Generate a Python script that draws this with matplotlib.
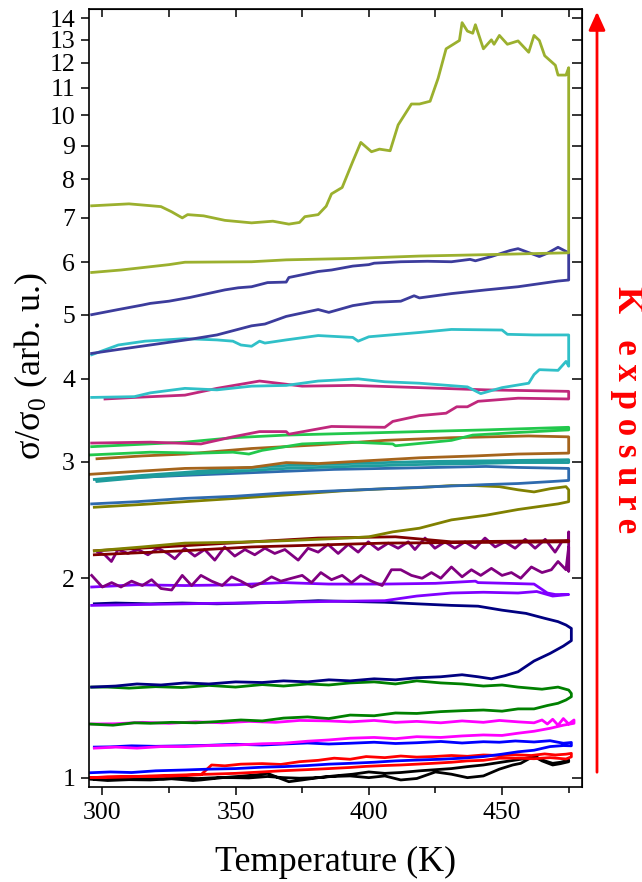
import matplotlib
matplotlib.use("Agg")
import matplotlib.pyplot as plt
from matplotlib.ticker import FixedLocator, FixedFormatter, NullLocator, MultipleLocator
from matplotlib.patches import FancyArrowPatch

plt.rcParams['font.family'] = ['Liberation Serif', 'DejaVu Serif']
plt.rcParams['mathtext.fontset'] = 'custom'
plt.rcParams['mathtext.rm'] = 'Liberation Serif'

# each curve: heating branch (T up) then cooling branch (T down)
black_T = [295, 302, 310, 318, 326, 334, 337, 345, 352, 358, 362, 366, 370, 375, 381, 386, 393, 400, 406,
           412, 418, 425, 431, 437, 443, 449, 454, 457, 462, 466, 469, 472, 475,
           475, 472, 469, 465, 462, 457, 453, 449, 443, 437, 431, 425, 419, 412, 406, 400, 394, 387, 381,
           374, 368, 362, 355, 349, 343, 336, 330, 323, 318, 310, 304, 297]
black_v = [0.995, 0.99, 0.993, 0.992, 0.996, 0.99, 0.992, 1.0, 1.005, 1.01, 1.015, 1.0, 0.986, 0.992, 1.0,
           1.004, 1.006, 1.0, 1.006, 0.992, 0.997, 1.02, 1.012, 1.0, 1.006, 1.03, 1.045, 1.051, 1.078, 1.06,
           1.051, 1.055, 1.063,
           1.057, 1.05, 1.045, 1.06, 1.076, 1.066, 1.06, 1.054, 1.045, 1.039, 1.032, 1.028, 1.024, 1.018,
           1.015, 1.02, 1.012, 1.006, 1.0, 0.998, 1.0, 1.004, 0.999, 1.0, 1.0, 0.997, 0.998, 0.996, 0.998,
           0.995, 0.997, 0.995]

red_T = [295, 302, 310, 318, 325, 332, 337, 341, 346, 352, 360, 367, 374, 381, 387, 393, 399, 406, 412, 418,
         424, 431, 437, 443, 449, 455, 461, 466, 470, 474, 476,
         476, 474, 468, 462, 456, 449, 443, 437, 431, 424, 418, 412, 406, 399, 393, 387, 381, 374, 367, 360,
         350, 340, 332, 325, 318, 310, 302, 295]
red_v = [1.0, 1.002, 1.003, 1.004, 1.005, 1.008, 1.01, 1.045, 1.042, 1.048, 1.05, 1.047, 1.057, 1.062, 1.07,
         1.066, 1.076, 1.072, 1.078, 1.074, 1.076, 1.08, 1.077, 1.082, 1.08, 1.083, 1.08, 1.086, 1.082, 1.085,
         1.088,
         1.075, 1.067, 1.072, 1.068, 1.07, 1.07, 1.062, 1.06, 1.055, 1.051, 1.048, 1.045, 1.043, 1.04, 1.036,
         1.033, 1.03, 1.027, 1.024, 1.02, 1.015, 1.012, 1.01, 1.008, 1.006, 1.003, 1.002, 1.0]

blue_T = [295, 303, 311, 320, 331, 340, 350, 360, 368, 377, 385, 393, 402, 410, 418, 427, 435, 443, 450, 456,
          462, 468, 473, 476,
          476, 473, 468, 462, 455, 449, 443, 435, 427, 418, 410, 402, 393, 385, 377, 368, 360, 350, 340, 331,
          320, 311, 303, 297]
blue_v = [1.017, 1.02, 1.018, 1.024, 1.027, 1.03, 1.032, 1.037, 1.039, 1.043, 1.048, 1.051, 1.055, 1.06, 1.063,
          1.066, 1.07, 1.076, 1.085, 1.094, 1.1, 1.114, 1.118, 1.117,
          1.13, 1.127, 1.137, 1.132, 1.136, 1.131, 1.133, 1.128, 1.134, 1.129, 1.126, 1.131, 1.127, 1.124,
          1.128, 1.124, 1.12, 1.123, 1.119, 1.117, 1.115, 1.117, 1.113, 1.112]

magenta_T = [297, 305, 313, 322, 331, 340, 350, 360, 368, 377, 385, 393, 402, 410, 418, 427, 435, 443, 450,
             456, 462, 468, 473, 477,
             477, 475, 473, 471, 469, 467, 465, 462, 456, 449, 443, 435, 427, 418, 410, 402, 393, 385, 374,
             365, 355, 345, 335, 325, 315, 305, 296]
magenta_v = [1.108, 1.112, 1.108, 1.114, 1.114, 1.118, 1.12, 1.125, 1.127, 1.135, 1.14, 1.147, 1.15, 1.145,
             1.153, 1.15, 1.156, 1.16, 1.158, 1.167, 1.175, 1.187, 1.2, 1.208,
             1.222, 1.205, 1.228, 1.2, 1.225, 1.205, 1.222, 1.21, 1.214, 1.22, 1.212, 1.218, 1.21, 1.216,
             1.212, 1.22, 1.214, 1.218, 1.22, 1.212, 1.216, 1.21, 1.214, 1.208, 1.212, 1.206, 1.205]

green_T = [295, 304, 312, 318, 326, 335, 343, 352, 360, 368, 377, 385, 393, 402, 410, 418, 427, 435, 443, 450,
           456, 462, 467, 471, 474, 476,
           476, 475, 471, 465, 456, 450, 443, 435, 427, 418, 410, 402, 393, 385, 377, 368, 360, 350, 340, 330,
           320, 310, 302, 296]
green_v = [1.205, 1.2, 1.21, 1.208, 1.212, 1.21, 1.215, 1.222, 1.218, 1.23, 1.235, 1.228, 1.243, 1.24, 1.252,
           1.25, 1.258, 1.262, 1.265, 1.26, 1.27, 1.27, 1.285, 1.295, 1.31, 1.325,
           1.34, 1.356, 1.37, 1.36, 1.37, 1.38, 1.375, 1.385, 1.39, 1.40, 1.385, 1.395, 1.39, 1.38, 1.385,
           1.375, 1.382, 1.37, 1.378, 1.368, 1.372, 1.365, 1.37, 1.37]

navy_T = [296, 305, 313, 322, 331, 340, 350, 360, 368, 377, 385, 393, 402, 410, 418, 427, 435, 441, 446,
          451, 456, 462, 468, 473, 476,
          476, 474, 471, 466, 459, 450, 441, 431, 418, 406, 393, 381, 368, 355, 343, 330, 318, 305, 297]
navy_v = [1.37, 1.375, 1.385, 1.38, 1.39, 1.385, 1.395, 1.392, 1.40, 1.395, 1.405, 1.40, 1.41, 1.405, 1.415,
          1.42, 1.43, 1.42, 1.41, 1.425, 1.445, 1.50, 1.54, 1.58, 1.61,
          1.68, 1.70, 1.72, 1.74, 1.77, 1.79, 1.815, 1.82, 1.83, 1.84, 1.845, 1.85, 1.84, 1.835, 1.83, 1.835,
          1.83, 1.835, 1.83]

violet_T = [296, 313, 331, 350, 368, 385, 406, 418, 431, 443, 456, 463, 469, 475,
            475, 470, 467, 462, 452, 441, 440, 425, 406, 385, 368, 350, 331, 313, 296]
violet_v = [1.82, 1.825, 1.83, 1.835, 1.84, 1.845, 1.85, 1.88, 1.90, 1.905, 1.90, 1.91, 1.88, 1.89,
            1.89, 1.89, 1.90, 1.96, 1.965, 1.97, 1.98, 1.965, 1.96, 1.96, 1.97, 1.955, 1.95, 1.955, 1.94]

purple_T = [296, 300, 303.5, 307, 311, 315, 318.5, 322, 326, 330, 333.5, 337, 341, 345, 348.5, 352, 356, 360,
            363.5, 367, 371, 375, 378.5, 382, 386, 390, 393.5, 397, 401, 405, 408.5, 412, 416, 420, 423.5,
            427, 431, 435, 438.5, 442, 446, 450, 453.5, 457, 461, 465, 468.5, 471, 474, 475, 475, 475,
            474.9, 472.4, 469.9, 466.2, 462.4, 458.7, 454.9, 451.1, 447.4, 443.6, 439.9, 436.1, 432.3, 428.6,
            424.8, 421.1, 417.3, 414.8, 411, 407.3, 403.5, 399.8, 396, 392.3, 388.5, 384.7, 381, 377.2, 373.5,
            368.5, 364.7, 361, 357.2, 353.5, 349.7, 345.9, 342.2, 338.4, 334.7, 330.9, 327.2, 324.6, 320.9,
            317.1, 313.4, 309.6, 305.9, 303.4, 300.9, 298.3]
purple_v = [2.02, 1.94, 1.97, 1.94, 1.98, 1.95, 1.99, 1.93, 1.92, 2.02, 1.95, 2.02, 1.98, 1.95, 2.01, 1.98,
            1.94, 1.97, 2.01, 1.98, 2.00, 2.02, 1.97, 2.04, 1.99, 2.02, 1.97, 2.02, 1.98, 1.95, 2.06, 2.06,
            2.02, 2.00, 2.04, 2.00, 2.08, 2.01, 2.06, 2.02, 2.07, 2.02, 2.04, 2.00, 2.08, 2.04, 2.06, 2.12,
            2.06, 2.23, 2.05, 2.35,
            2.28, 2.27, 2.19, 2.29, 2.22, 2.29, 2.22, 2.27, 2.23, 2.30, 2.22, 2.27, 2.22, 2.27, 2.22, 2.30,
            2.21, 2.27, 2.22, 2.26, 2.21, 2.27, 2.19, 2.25, 2.18, 2.25, 2.19, 2.22, 2.13, 2.21, 2.18, 2.22,
            2.17, 2.21, 2.16, 2.23, 2.13, 2.21, 2.16, 2.22, 2.14, 2.18, 2.22, 2.17, 2.21, 2.18, 2.21, 2.12,
            2.17, 2.19]

maroon_T = [297, 330, 356, 381, 406, 440, 475, 475, 431, 410, 381, 356, 331, 297]
maroon_v = [2.17, 2.2, 2.23, 2.245, 2.26, 2.265, 2.27, 2.28, 2.27, 2.31, 2.30, 2.27, 2.24, 2.20]

olive_T = [297, 315, 331, 345, 356, 370, 381, 392, 400, 409, 419, 431, 444, 456, 462, 471, 475,
           475, 474, 468, 462, 456, 449, 440, 431, 418, 406, 390, 368, 350, 331, 315, 297]
olive_v = [2.20, 2.23, 2.26, 2.265, 2.27, 2.28, 2.29, 2.3, 2.31, 2.35, 2.38, 2.45, 2.49, 2.54, 2.56, 2.59, 2.61,
           2.72, 2.75, 2.73, 2.70, 2.72, 2.75, 2.76, 2.76, 2.74, 2.73, 2.71, 2.67, 2.64, 2.61, 2.585, 2.56]

steel_T = [296, 313, 331, 350, 368, 387, 406, 425, 444, 456, 469, 475, 475, 456, 444, 425, 406, 387, 368,
           350, 331, 313, 298]
steel_v = [2.59, 2.61, 2.64, 2.66, 2.69, 2.71, 2.73, 2.75, 2.77, 2.78, 2.80, 2.81, 2.93, 2.94, 2.95, 2.94,
           2.93, 2.92, 2.90, 2.88, 2.86, 2.84, 2.81]

teal_T = [298, 315, 331, 350, 369, 393, 419, 440, 456, 475, 475, 450, 419, 393, 369, 350, 331, 315, 297]
teal_v = [2.80, 2.84, 2.87, 2.90, 2.93, 2.95, 2.97, 2.98, 2.99, 2.99, 3.02, 3.01, 3.0, 2.98, 2.96, 2.93,
          2.89, 2.86, 2.82]

brown_T = [295, 313, 331, 356, 369, 381, 400, 419, 440, 456, 475, 475, 460, 431, 406, 381, 356, 331, 315, 298]
brown_v = [2.87, 2.90, 2.93, 2.94, 2.99, 2.98, 3.01, 3.04, 3.06, 3.08, 3.09, 3.27, 3.28, 3.26, 3.23, 3.18,
           3.14, 3.08, 3.06, 3.03]

lime_T = [295, 318, 337, 349, 355, 360, 375, 394, 409, 410, 431, 439, 456, 475,
          475, 444, 419, 394, 369, 349, 331, 296]
lime_v = [3.07, 3.10, 3.09, 3.10, 3.08, 3.12, 3.19, 3.21, 3.19, 3.17, 3.23, 3.29, 3.32, 3.35,
          3.38, 3.35, 3.33, 3.31, 3.29, 3.26, 3.21, 3.16]

rose_T = [296, 318, 337, 349, 359, 369, 370, 386, 406, 409, 419, 429, 433, 437, 441, 456, 475,
          475, 444, 419, 394, 375, 359, 343, 331, 312, 301]
rose_v = [3.20, 3.21, 3.19, 3.27, 3.33, 3.33, 3.30, 3.39, 3.38, 3.45, 3.52, 3.55, 3.63, 3.63, 3.70, 3.74, 3.73,
          3.83, 3.85, 3.88, 3.91, 3.90, 3.97, 3.87, 3.78, 3.75, 3.73]

cyan_T = [296, 312, 318, 331, 343, 356, 369, 381, 396, 406, 419, 437, 442, 450, 460, 462, 464, 471, 474, 475,
          475, 462, 452, 450, 431, 419, 400, 396, 394, 381, 369, 361, 359, 356, 352, 349, 343, 331, 316, 306, 296]
cyan_v = [3.75, 3.76, 3.81, 3.87, 3.85, 3.90, 3.91, 3.97, 4.0, 3.96, 3.94, 3.89, 3.80, 3.88, 3.94, 4.06, 4.13,
          4.12, 4.25, 4.18,
          4.66, 4.66, 4.67, 4.74, 4.75, 4.70, 4.63, 4.56, 4.62, 4.65, 4.58, 4.53, 4.56, 4.48, 4.50, 4.56, 4.58,
          4.60, 4.56, 4.50, 4.35]

slate_T = [296, 306, 318, 333, 343, 356, 361, 369, 381, 385, 394, 402, 412, 417, 419, 431, 444, 456, 471, 475,
           475, 471, 467, 464, 456, 453, 446, 440, 438, 431, 422, 412, 402, 400, 394, 386, 381, 370, 369, 362,
           356, 351, 346, 333, 325, 318, 315, 306, 296]
slate_v = [4.37, 4.43, 4.50, 4.59, 4.66, 4.81, 4.84, 4.97, 5.09, 5.04, 5.16, 5.22, 5.24, 5.34, 5.30, 5.38, 5.45,
           5.51, 5.62, 5.64,
           6.2, 6.32, 6.19, 6.12, 6.29, 6.25, 6.12, 6.03, 6.06, 6.01, 6.02, 6.01, 5.98, 5.95, 5.92, 5.84, 5.81,
           5.69, 5.60, 5.59, 5.51, 5.49, 5.45, 5.31, 5.24, 5.2, 5.17, 5.09, 5.0]

yg_T = [296, 307, 325, 331, 356, 369, 394, 419, 444, 475,
        475, 474, 471, 470, 466, 464, 462, 460, 456, 452, 449, 447, 446, 443, 440, 439, 437, 435, 434, 429,
        426, 423, 419, 416, 411, 408, 404, 401, 397, 394, 390, 386, 384, 381, 376, 374, 370, 364, 356, 346,
        338, 332, 330, 326, 322, 310, 296]
yg_v = [5.79, 5.84, 5.95, 6.0, 6.01, 6.05, 6.08, 6.13, 6.16, 6.2,
        11.8, 11.5, 11.5, 11.9, 12.3, 12.97, 13.2, 12.45, 12.95, 12.8, 13.2, 12.8, 13.0, 12.6, 13.7, 13.3,
        13.4, 13.8, 12.97, 12.6, 11.37, 10.5, 10.4, 10.4, 9.67, 8.84, 8.89, 8.81, 9.1, 8.52, 7.78, 7.61, 7.29,
        7.08, 7.03, 6.89, 6.85, 6.92, 6.88, 6.94, 7.05, 7.08, 7.0, 7.15, 7.28, 7.35, 7.30]

curves = [
    (black_T, black_v, '#000000'),
    (red_T, red_v, '#ff0000'),
    (blue_T, blue_v, '#0000ff'),
    (magenta_T, magenta_v, '#ff00ff'),
    (green_T, green_v, '#008000'),
    (navy_T, navy_v, '#000080'),
    (violet_T, violet_v, '#8000ff'),
    (purple_T, purple_v, '#800080'),
    (maroon_T, maroon_v, '#800000'),
    (olive_T, olive_v, '#808000'),
    (steel_T, steel_v, '#2e6aae'),
    (teal_T, teal_v, '#1e9c9c'),
    (brown_T, brown_v, '#a5641c'),
    (lime_T, lime_v, '#22c84c'),
    (rose_T, rose_v, '#c0287c'),
    (cyan_T, cyan_v, '#30c0c8'),
    (slate_T, slate_v, '#3c3c9c'),
    (yg_T, yg_v, '#9bb02e'),
]

yticks = list(range(1, 15))

fig = plt.figure(figsize=(6.42, 8.82), dpi=100)
ax = fig.add_axes([89 / 642, 1 - 787 / 882, 493 / 642, 778 / 882])

for T, v, c in curves:
    ax.plot(T, v, color=c, lw=2.0)

ax.set_yscale('log')
ax.set_xlim(295, 480)
ax.set_ylim(0.968, 14.47)
ax.yaxis.set_major_locator(FixedLocator(yticks))
ax.yaxis.set_major_formatter(FixedFormatter([str(t) for t in yticks]))
ax.yaxis.set_minor_locator(NullLocator())
ax.xaxis.set_major_locator(MultipleLocator(50))
ax.xaxis.set_minor_locator(MultipleLocator(25))

for s in ax.spines.values():
    s.set_linewidth(1.2)
ax.tick_params(axis='both', which='major', labelsize=18.5, width=1.1)
ax.tick_params(axis='x', which='major', direction='out', length=6, top=False, pad=5)
ax.tick_params(axis='x', which='minor', direction='out', length=4, width=1.1, top=False)
ax.tick_params(axis='y', which='major', direction='out', length=6, right=False, pad=4)

secx = ax.secondary_xaxis('top')
secx.xaxis.set_major_locator(MultipleLocator(25))
secx.tick_params(direction='in', length=6, width=1.1, labeltop=False)
secy = ax.secondary_yaxis('right')
secy.yaxis.set_major_locator(FixedLocator(yticks))
secy.yaxis.set_minor_locator(NullLocator())
secy.tick_params(direction='in', length=7, width=1.1, labelright=False)

fig.text(335.5 / 642, 1 - 862 / 882, 'Temperature (K)', fontsize=26, ha='center', va='center')
fig.text(31 / 642, 1 - 366 / 882, 'σ/σ$_\\mathregular{0}$ (arb. u.)', fontsize=26, rotation=90,
         ha='center', va='center')

arrow = FancyArrowPatch((597 / 642, 1 - 775 / 882), (597 / 642, 1 - 9 / 882), transform=fig.transFigure,
                        arrowstyle='-|>,head_length=11,head_width=5', color='red', lw=2.0)
fig.add_artist(arrow)
fig.text(627 / 642, 1 - 410 / 882, 'K   e x p o s u r e', fontsize=25, fontweight='bold',
         color='red', rotation=-90, ha='center', va='center')

fig.savefig('out.png', dpi=100)
